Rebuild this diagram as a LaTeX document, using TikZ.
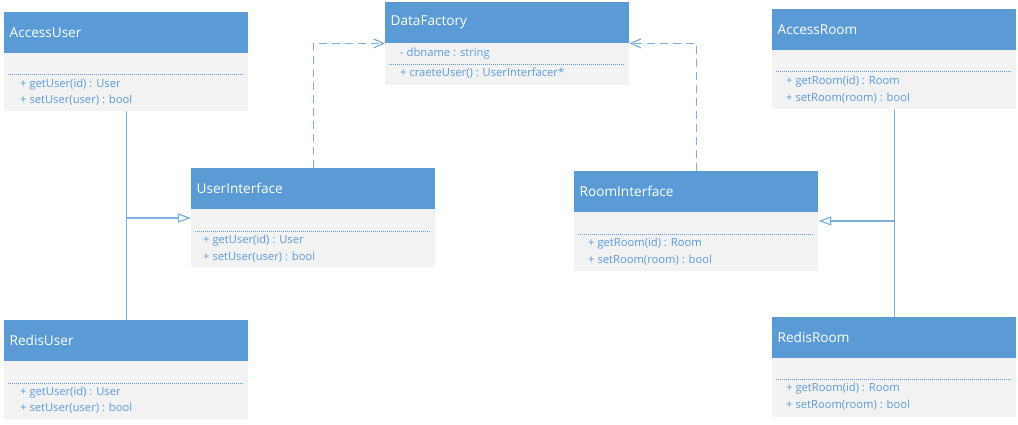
\documentclass[tikz,border=0pt]{standalone}
\usepackage{fontspec}
\setmainfont{Open Sans}
\usetikzlibrary{arrows.meta}
\definecolor{hdblue}{HTML}{5B9BD5}
\definecolor{bodygray}{HTML}{F2F2F2}
\definecolor{txtblue}{HTML}{5B9BD5}
\definecolor{lineblue}{HTML}{7BAFDE}
\tikzset{
  classhead/.style={anchor=north west, fill=hdblue, minimum width=244pt, minimum height=41pt,
    text width=233pt, align=left, text=white, font=\fontsize{13.6}{15}\selectfont},
  classbody/.style={anchor=north west, fill=bodygray, minimum width=244pt, inner sep=0pt},
  member/.style={anchor=west, inner sep=0pt, text=txtblue, font=\fontsize{11.2}{13}\selectfont},
  sepline/.style={draw=txtblue, line width=0.5pt, dash pattern=on 1pt off 1pt},
  inherit/.style={draw=lineblue, line width=1.2pt, -{Triangle[open, length=13pt, width=9pt]}},
  assoc/.style={draw=lineblue, line width=1.2pt},
  depend/.style={draw=lineblue, line width=1.2pt, dash pattern=on 8pt off 5pt,
    -{Straight Barb[length=10pt, width=9pt]}}
}
\begin{document}
\begin{tikzpicture}[x=1pt, y=-1pt]
    \useasboundingbox (0,0) rectangle (1018,424);
    \begin{scope}
      % DataFactory
      \node[classbody, minimum height=43pt] (datafactory-b) at (385,42) {};
      \node[classhead] (datafactory) at (385,2) {DataFactory};
      \node[member] at (400,54) {- dbname : string};
      \draw[sepline] (389,64) -- (625,64);
      \node[member] at (400,73) {+ craeteUser() : UserInterfacer*};
      % AccessUser
      \node[classbody, minimum height=58pt] (accessuser-b) at (4,53) {};
      \node[classhead] (accessuser) at (4,12) {AccessUser};
      \draw[sepline] (8,74) -- (244,74);
      \node[member] at (20,85) {+ getUser(id) : User};
      \node[member] at (20,100) {+ setUser(user) : bool};
      % UserInterface
      \node[classbody, minimum height=58pt] (userinterface-b) at (191,209) {};
      \node[classhead] (userinterface) at (191,168) {UserInterface};
      \draw[sepline] (195,231) -- (431,231);
      \node[member] at (203,241) {+ getUser(id) : User};
      \node[member] at (203,257) {+ setUser(user) : bool};
      % RedisUser
      \node[classbody, minimum height=58pt] (redisuser-b) at (4,361) {};
      \node[classhead] (redisuser) at (4,320) {RedisUser};
      \draw[sepline] (8,383) -- (244,383);
      \node[member] at (20,393) {+ getUser(id) : User};
      \node[member] at (20,408) {+ setUser(user) : bool};
      % AccessRoom
      \node[classbody, minimum height=59pt] (accessroom-b) at (772,50) {};
      \node[classhead] (accessroom) at (772,9) {AccessRoom};
      \draw[sepline] (776,71) -- (1012,71);
      \node[member] at (786,82) {+ getRoom(id) : Room};
      \node[member] at (786,98) {+ setRoom(room) : bool};
      % RoomInterface
      \node[classbody, minimum height=59pt] (roominterface-b) at (574,212) {};
      \node[classhead] (roominterface) at (574,171) {RoomInterface};
      \draw[sepline] (578,234) -- (814,234);
      \node[member] at (588,244) {+ getRoom(id) : Room};
      \node[member] at (588,260) {+ setRoom(room) : bool};
      % RedisRoom
      \node[classbody, minimum height=60pt] (redisroom-b) at (772,357) {};
      \node[classhead] (redisroom) at (772,317) {RedisRoom};
      \draw[sepline] (776,379) -- (1012,379);
      \node[member] at (786,389) {+ getRoom(id) : Room};
      \node[member] at (786,405) {+ setRoom(room) : bool};
      % connectors
      \coordinate (userjoin) at (126,218);
      \coordinate (roomjoin) at (894,221);
      \draw[assoc] (accessuser-b.south) -- (redisuser.north);
      \draw[inherit] (userjoin) -- (userjoin -| userinterface-b.west);
      \draw[assoc] (accessroom-b.south) -- (redisroom.north);
      \draw[inherit] (roomjoin) -- (roomjoin -| roominterface-b.east);
      \draw[depend] (userinterface.north) |- (datafactory.south west);
      \draw[depend] (roominterface.north) |- (datafactory.south east);
    \end{scope}
  \end{tikzpicture}
\end{document}
